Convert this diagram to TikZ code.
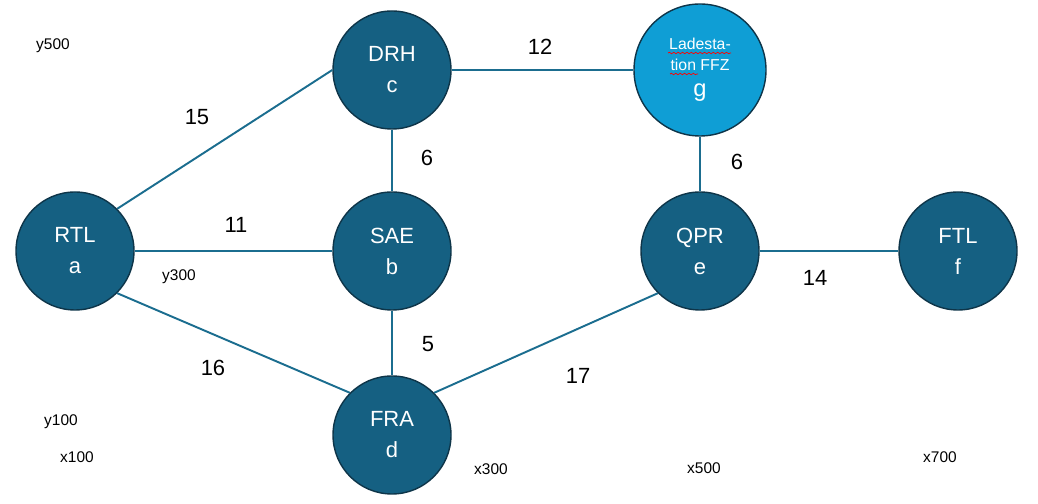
\documentclass[tikz,border=0pt]{standalone}
\usepackage{fontspec}
\setmainfont{Liberation Sans}
\usetikzlibrary{decorations.pathmorphing}
\definecolor{stationfill}{HTML}{156082}
\definecolor{stationrim}{HTML}{0E3549}
\definecolor{ladefill}{HTML}{0F9ED5}
\definecolor{kante}{HTML}{1B6D8F}

\begin{document}
\begin{tikzpicture}[
		station/.style={circle,draw=stationrim,line width=0.8pt,fill=stationfill,minimum size=2.36cm,inner sep=0pt,
			text=white,align=center,font=\fontsize{12.5}{17.6}\selectfont},
		ladestation/.style={station,fill=ladefill,minimum size=2.64cm},
		edge/.style={draw=kante,line width=1.1pt},
		weight/.style={font=\fontsize{12.5}{15}\selectfont},
		coord/.style={font=\fontsize{8.8}{10}\selectfont}
	]
			\useasboundingbox (0,0) rectangle (20.76,10.08);
			% stations
			\node[station] (a) at (1.50,5.06) {RTL\\a};
			\node[station] (b) at (7.84,5.06) {SAE\\b};
			\node[station] (c) at (7.84,8.68) {DRH\\c};
			\node[station] (d) at (7.84,1.38) {FRA\\d};
			\node[station] (e) at (14.00,5.06) {QPR\\e};
			\node[station] (f) at (19.16,5.06) {FTL\\f};
			\node[ladestation] (g) at (14.00,8.68) {};
			\node[text=white,font=\fontsize{9}{12}\selectfont] (g1) at (14.00,9.20) {Ladesta-};
			\node[text=white,font=\fontsize{9}{12}\selectfont] (g2) at (14.00,8.78) {tion FFZ};
			\node[text=white,font=\fontsize{13.5}{15}\selectfont] (g3) at (14.00,8.22) {g};
			\draw[red,line width=0.4pt,decorate,decoration={snake,amplitude=0.4pt,segment length=2.5pt}] (13.36,9.02) -- (14.62,9.02);
			\draw[red,line width=0.4pt,decorate,decoration={snake,amplitude=0.4pt,segment length=2.5pt}] (13.40,8.60) -- (13.96,8.60);
			% edges
			\draw[edge] (a.north east) -- (c.west);
			\draw[edge] (a.east) -- (b.west);
			\draw[edge] (a.south east) -- (d.north west);
			\draw[edge] (c.south) -- (b.north);
			\draw[edge] (b.south) -- (d.north);
			\draw[edge] (c.east) -- (g.west);
			\draw[edge] (g.south) -- (e.north);
			\draw[edge] (e.east) -- (f.west);
			\draw[edge] (d.north east) -- (e.south west);
			% weights
			\node[weight] (w15) at (3.94,7.74) {15};
			\node[weight] (w11) at (4.72,5.58) {11};
			\node[weight] (w16) at (4.26,2.72) {16};
			\node[weight] (w6a) at (8.54,6.92) {6};
			\node[weight] (w5) at (8.56,3.20) {5};
			\node[weight] (w12) at (10.80,9.14) {12};
			\node[weight] (w6b) at (14.74,6.84) {6};
			\node[weight] (w14) at (16.30,4.52) {14};
			\node[weight] (w17) at (11.56,2.56) {17};
			% axis marks
			\node[coord] (y500) at (1.06,9.16) {y500};
			\node[coord] (y300) at (3.58,4.54) {y300};
			\node[coord] (y100) at (1.22,1.64) {y100};
			\node[coord] (x100) at (1.54,0.94) {x100};
			\node[coord] (x300) at (9.82,0.70) {x300};
			\node[coord] (x500) at (14.08,0.72) {x500};
			\node[coord] (x700) at (18.80,0.94) {x700};
		\end{tikzpicture}
\end{document}
